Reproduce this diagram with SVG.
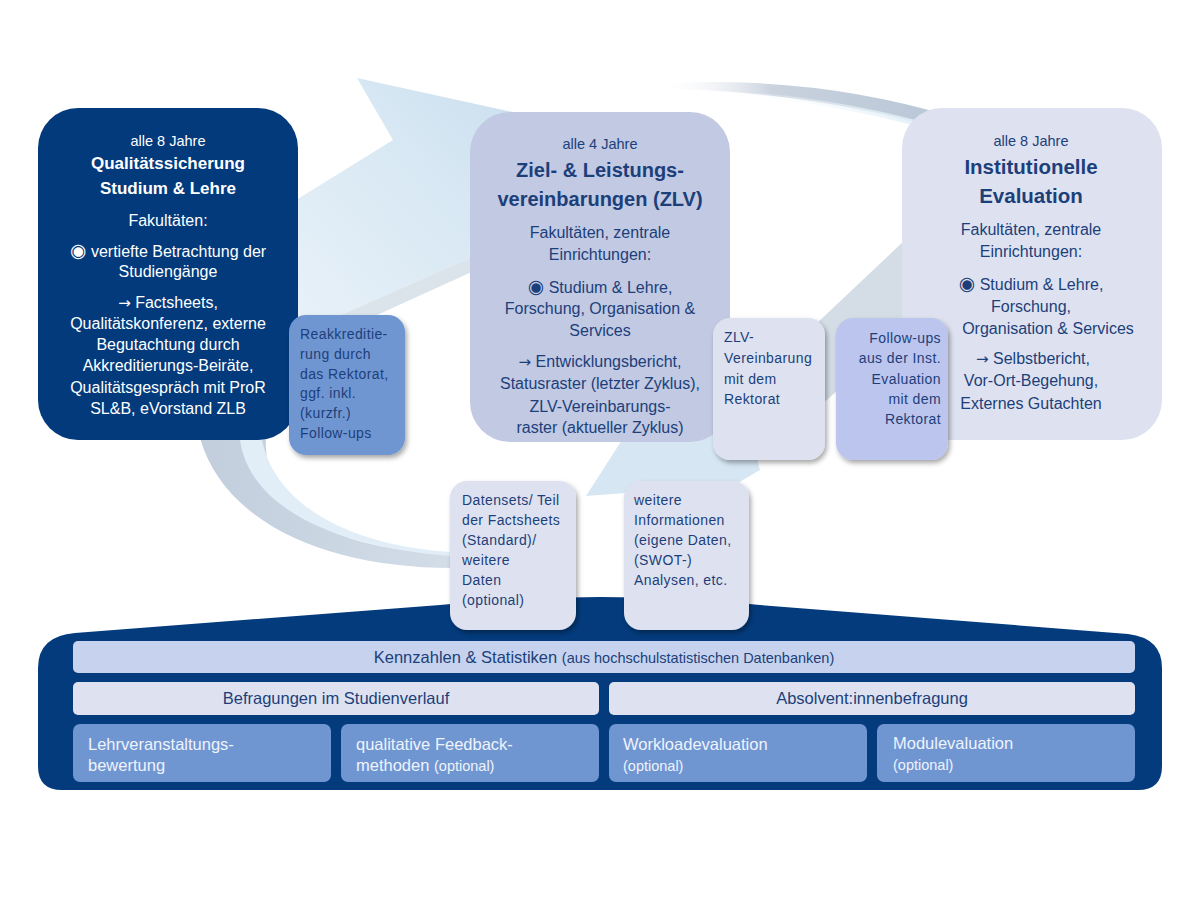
<svg xmlns="http://www.w3.org/2000/svg" width="1200" height="900" viewBox="0 0 1200 900">
<defs>
<linearGradient id="gA" x1="0" y1="1" x2="1" y2="0">
<stop offset="0" stop-color="#E6F0F8"/>
<stop offset="0.6" stop-color="#D3E5F2"/>
<stop offset="1" stop-color="#C3DAEC"/>
</linearGradient>
<linearGradient id="gArc" x1="0" y1="0" x2="1" y2="0">
<stop offset="0" stop-color="#FFFFFF" stop-opacity="0"/>
<stop offset="0.4" stop-color="#C9D2DE"/>
<stop offset="1" stop-color="#B8C6D6"/>
</linearGradient>
<linearGradient id="gArcIn" x1="0" y1="0" x2="1" y2="0">
<stop offset="0" stop-color="#FFFFFF" stop-opacity="0"/>
<stop offset="1" stop-color="#DDEDF7"/>
</linearGradient>
<linearGradient id="gD" x1="0" y1="0" x2="1" y2="0">
<stop offset="0" stop-color="#C3CEDD"/>
<stop offset="1" stop-color="#D2DDE8"/>
</linearGradient>
<filter id="sh" x="-20%" y="-20%" width="140%" height="140%">
<feDropShadow dx="2" dy="3" stdDeviation="2.5" flood-color="#000" flood-opacity="0.35"/>
</filter>
<style>
text{font-family:"Liberation Sans",Arial,"DejaVu Sans",sans-serif;}
.w{fill:#FFFFFF;}
.n{fill:#1C3F7A;}
.c{text-anchor:middle;}
.r{text-anchor:end;}
.y{font-size:14.5px;}
.t{font-size:16px;}
.b{font-weight:bold;}
.sym{font-family:"DejaVu Sans",sans-serif;font-size:15px;}
.rad{font-family:"DejaVu Sans",sans-serif;font-size:19px;}
.sb{font-size:14px;letter-spacing:0.4px;fill:#1C3F7A;}
.bw{fill:#EEF3FB;font-size:16.5px;}
.op{font-size:14.5px;}
</style>
</defs>
<rect width="1200" height="900" fill="#FFFFFF"/>

<g id="background-arrows">
<polygon points="296,200 393,140 357,78 540,118 540,210 470,258 296,335" fill="url(#gA)" opacity="0.9"/>
<polygon points="296,335 470,258 476,270 300,350" fill="#CCD7E2" opacity="0.7"/>
<path d="M 655,84 Q 810,74 950,116 L 950,132 Q 820,92 655,88 Z" fill="url(#gArc)"/>
<path d="M 700,90 Q 820,92 945,128 L 945,134 Q 820,98 700,92 Z" fill="url(#gArcIn)"/>
<polygon points="905,240 940,300 770,450 725,410" fill="#C9D4E0" opacity="0.8"/>
<polygon points="740,392 760,470 700,505 640,492 586,496 622,440 660,418" fill="#D6E7F3"/>
<path d="M 200,438 C 225,525 330,568 452,568 L 452,553 C 345,552 262,515 266,438 Z" fill="url(#gD)"/>
<path d="M 240,440 C 250,510 340,548 452,556 L 452,552 C 350,546 275,505 262,440 Z" fill="#E2EEF7"/>
</g>

<g id="base-panel">
<path d="M 62,790 Q 38,790 38,766 L 38,668 Q 38,636 75,633 L 440,605 Q 600,589 760,605 L 1128,634 Q 1162,638 1162,668 L 1162,766 Q 1162,790 1138,790 Z" fill="#033B7D"/>
</g>

<g id="node-qualitaetssicherung">
<rect x="38" y="108" width="260" height="332" rx="40" fill="#023A7C"/>
<text class="w c y" x="168" y="146">alle 8 Jahre</text>
<text class="w c b" x="168" y="169" font-size="17">Qualitätssicherung</text>
<text class="w c b" x="168" y="194" font-size="17">Studium &amp; Lehre</text>
<text class="w c t" x="168" y="226">Fakultäten:</text>
<text class="w c t" x="168" y="257"><tspan class="rad">◉</tspan> vertiefte Betrachtung der</text>
<text class="w c t" x="168" y="277">Studiengänge</text>
<text class="w c t" x="168" y="308"><tspan class="sym">→</tspan> Factsheets,</text>
<text class="w c t" x="168" y="329">Qualitätskonferenz, externe</text>
<text class="w c t" x="168" y="350">Begutachtung durch</text>
<text class="w c t" x="168" y="371">Akkreditierungs-Beiräte,</text>
<text class="w c t" x="168" y="393">Qualitätsgespräch mit ProR</text>
<text class="w c t" x="168" y="414">SL&amp;B, eVorstand ZLB</text>
</g>

<g id="node-zlv">
<rect x="470" y="112" width="260" height="330" rx="40" fill="#C1C9E3"/>
<text class="n c y" x="600" y="149">alle 4 Jahre</text>
<text class="n c b" x="600" y="177" font-size="20">Ziel- &amp; Leistungs-</text>
<text class="n c b" x="600" y="206" font-size="20">vereinbarungen (ZLV)</text>
<text class="n c t" x="600" y="238">Fakultäten, zentrale</text>
<text class="n c t" x="600" y="260">Einrichtungen:</text>
<text class="n c t" x="600" y="293"><tspan class="rad">◉</tspan> Studium &amp; Lehre,</text>
<text class="n c t" x="600" y="314">Forschung, Organisation &amp;</text>
<text class="n c t" x="600" y="336">Services</text>
<text class="n c t" x="600" y="367"><tspan class="sym">→</tspan> Entwicklungsbericht,</text>
<text class="n c t" x="600" y="389">Statusraster (letzter Zyklus),</text>
<text class="n c t" x="600" y="412">ZLV-Vereinbarungs-</text>
<text class="n c t" x="600" y="433">raster (aktueller Zyklus)</text>
</g>

<g id="node-institutionelle-evaluation">
<rect x="902" y="108" width="260" height="332" rx="40" fill="#DEE2F0"/>
<text class="n c y" x="1031" y="146">alle 8 Jahre</text>
<text class="n c b" x="1031" y="174" font-size="20.5">Institutionelle</text>
<text class="n c b" x="1031" y="203" font-size="20.5">Evaluation</text>
<text class="n c t" x="1031" y="235">Fakultäten, zentrale</text>
<text class="n c t" x="1031" y="257">Einrichtungen:</text>
<text class="n c t" x="1031" y="290"><tspan class="rad">◉</tspan> Studium &amp; Lehre,</text>
<text class="n c t" x="1031" y="312">Forschung,</text>
<text class="n c t" x="1048" y="334">Organisation &amp; Services</text>
<text class="n c t" x="1033" y="364"><tspan class="sym">→</tspan> Selbstbericht,</text>
<text class="n c t" x="1031" y="386">Vor-Ort-Begehung,</text>
<text class="n c t" x="1031" y="409">Externes Gutachten</text>
</g>

<g id="node-reakkreditierung">
<rect x="289" y="315" width="116" height="140" rx="17" fill="#7096D2" filter="url(#sh)"/>
<text class="sb" x="300" y="339">Reakkreditie-</text>
<text class="sb" x="300" y="359">rung durch</text>
<text class="sb" x="300" y="379">das Rektorat,</text>
<text class="sb" x="300" y="398">ggf. inkl.</text>
<text class="sb" x="300" y="418">(kurzfr.)</text>
<text class="sb" x="300" y="438">Follow-ups</text>
</g>

<g id="node-zlv-vereinbarung">
<rect x="713" y="318" width="112" height="142" rx="17" fill="#DEE2F0" filter="url(#sh)"/>
<text class="sb" x="724" y="342">ZLV-</text>
<text class="sb" x="724" y="363">Vereinbarung</text>
<text class="sb" x="724" y="384">mit dem</text>
<text class="sb" x="724" y="404">Rektorat</text>
</g>

<g id="node-follow-ups">
<rect x="836" y="318" width="112" height="142" rx="17" fill="#BCC5EE" filter="url(#sh)"/>
<text class="sb r" x="941" y="343">Follow-ups</text>
<text class="sb r" x="941" y="363">aus der Inst.</text>
<text class="sb r" x="941" y="384">Evaluation</text>
<text class="sb r" x="941" y="404">mit dem</text>
<text class="sb r" x="941" y="424">Rektorat</text>
</g>

<g id="node-datensets">
<rect x="450" y="481" width="126" height="149" rx="17" fill="#DEE2F0" filter="url(#sh)"/>
<text class="sb" x="462" y="505">Datensets/ Teil</text>
<text class="sb" x="462" y="525">der Factsheets</text>
<text class="sb" x="462" y="545">(Standard)/</text>
<text class="sb" x="462" y="565">weitere</text>
<text class="sb" x="462" y="585">Daten</text>
<text class="sb" x="462" y="605">(optional)</text>
</g>

<g id="node-weitere-informationen">
<rect x="624" y="481" width="125" height="149" rx="17" fill="#DEE2F0" filter="url(#sh)"/>
<text class="sb" x="634" y="505">weitere</text>
<text class="sb" x="634" y="525">Informationen</text>
<text class="sb" x="634" y="545">(eigene Daten,</text>
<text class="sb" x="634" y="565">(SWOT-)</text>
<text class="sb" x="634" y="585">Analysen, etc.</text>
</g>

<g id="node-kennzahlen">
<rect x="73" y="641" width="1062" height="32" rx="5" fill="#C7D3EE"/>
<text class="n c" x="604" y="663" font-size="16.5">Kennzahlen &amp; Statistiken <tspan font-size="14.5">(aus hochschulstatistischen Datenbanken)</tspan></text>
</g>

<g id="node-befragungen">
<rect x="73" y="682" width="526" height="33" rx="5" fill="#DEE2F0"/>
<text class="n c" x="336" y="704" font-size="16.5">Befragungen im Studienverlauf</text>
</g>

<g id="node-absolvent">
<rect x="609" y="682" width="526" height="33" rx="5" fill="#DEE2F0"/>
<text class="n c" x="872" y="704" font-size="16.5">Absolvent:innenbefragung</text>
</g>

<g id="node-lehrveranstaltung">
<rect x="73" y="724" width="258" height="58" rx="7" fill="#7096D2"/>
<text class="bw" x="88" y="750">Lehrveranstaltungs-</text>
<text class="bw" x="88" y="771">bewertung</text>
</g>

<g id="node-qualitative-feedback">
<rect x="341" y="724" width="258" height="58" rx="7" fill="#7096D2"/>
<text class="bw" x="356" y="750">qualitative Feedback-</text>
<text class="bw" x="356" y="771">methoden <tspan class="op">(optional)</tspan></text>
</g>

<g id="node-workload">
<rect x="609" y="724" width="258" height="58" rx="7" fill="#7096D2"/>
<text class="bw" x="623" y="750">Workloadevaluation</text>
<text class="bw op" x="623" y="771">(optional)</text>
</g>

<g id="node-modulevaluation">
<rect x="877" y="724" width="258" height="58" rx="7" fill="#7096D2"/>
<text class="bw" x="893" y="749">Modulevaluation</text>
<text class="bw op" x="893" y="770">(optional)</text>
</g>

<g id="connectors"></g>
</svg>
